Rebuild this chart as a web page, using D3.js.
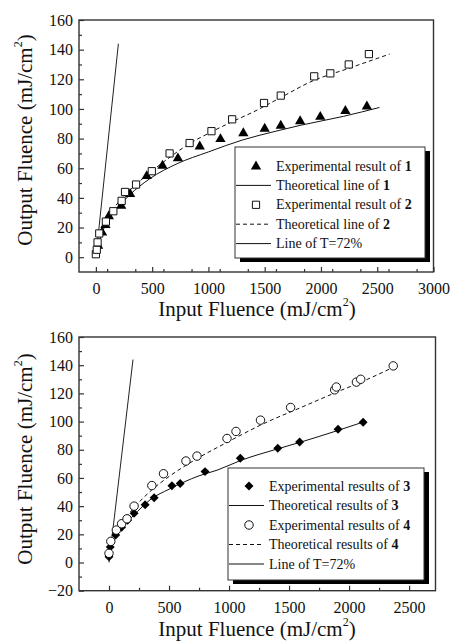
<!DOCTYPE html>
<html><head><meta charset="utf-8">
<script src="https://cdn.jsdelivr.net/npm/d3@7/dist/d3.min.js"></script>
</head>
<body style="margin:0;background:#fff">
<svg id="c" width="453" height="643"></svg>
<script>
// ---------- Panel A data ----------
const xTicksA = [0, 500, 1000, 1500, 2000, 2500, 3000];
const yTicksA = [0, 20, 40, 60, 80, 100, 120, 140, 160];
const exp1 = [[20,8],[55,17],[85,22],[115,28],[225,35],[304,43],[452,55],[592,62],[729,67],[923,75],[1107,80],[1310,84],[1500,87],[1643,89],[1815,92],[1994,95],[2217,99],[2408,102]];
const exp2 = [[0,2],[8,5],[15,10],[30,16],[89,24],[155,31],[229,38],[259,44],[357,49],[497,58],[655,70],[833,77],[1027,85],[1211,93],[1494,104],[1643,109],[1940,122],[2083,124],[2247,130],[2426,137]];
const theo1 = [[10,4],[50,15],[100,24],[200,34],[300,42],[480,53],[720,63],[1000,71],[1300,79],[1600,85],[1820,89],[2200,95],[2520,101]];
const theo2 = [[10,5],[50,17],[100,26],[200,37],[300,45],[480,57],[650,67],[840,77],[1000,83.5],[1200,91],[1400,98],[1650,108],[1900,118],[2270,128],[2610,137]];
const t72A = [[0,0],[200,144]];
const legendA = [
  {kind:"triangle", text:"Experimental result of ", bold:"1"},
  {kind:"solid", text:"Theoretical line of ", bold:"1"},
  {kind:"square", text:"Experimental result of ", bold:"2"},
  {kind:"dashed", text:"Theoretical line of ", bold:"2"},
  {kind:"solid", text:"Line of T=72%", bold:""}
];
// ---------- Panel B data ----------
const xTicksB = [0, 500, 1000, 1500, 2000, 2500];
const yTicksB = [-20, 0, 20, 40, 60, 80, 100, 120, 140, 160];
const exp3 = [[0,4],[10,11],[56,19.5],[105,25],[155,30],[209,35],[301,41],[376,46],[524,54.5],[593,56],[800,64.5],[1094,74],[1406,81],[1588,85.5],[1908,94.5],[2117,99.5]];
const exp4 = [[0,6.5],[15,15],[61,23],[105,27.5],[150,31],[209,40],[357,54.6],[454,63],[641,72],[733,75.5],[983,88],[1058,93],[1262,101],[1513,110],[1880,122.5],[1894,124.5],[2061,128],[2097,130],[2368,139.5]];
const theo3 = [[10,8],[50,17],[100,24],[200,33],[350,45],[500,52],[750,61.5],[900,65.5],[1100,72.5],[1400,80.5],[1600,85.5],[1900,93.5],[2130,100]];
const theo4 = [[10,10],[50,20],[100,27],[200,38],[350,51],[500,61],[700,72],[1000,86],[1300,99],[1600,110],[1900,121],[2100,128],[2380,139]];
const t72B = [[0,0],[200,144]];
const legendB = [
  {kind:"diamond", text:"Experimental results of ", bold:"3"},
  {kind:"solid", text:"Theoretical results of ", bold:"3"},
  {kind:"circle", text:"Experimental results of ", bold:"4"},
  {kind:"dashed", text:"Theoretical results of ", bold:"4"},
  {kind:"solid", text:"Line of T=72%", bold:""}
];

const FONT = "Liberation Serif";
const svg = d3.select("#c");

function marker(g, kind, x, y){
  if(kind==="triangle"){
    g.append("path").attr("d", d3.symbol().type(d3.symbolTriangle).size(46)())
      .attr("transform",`translate(${x},${y+0.5})`).attr("fill","#000");
  } else if(kind==="square"){
    g.append("path").attr("d", d3.symbol().type(d3.symbolSquare).size(52)())
      .attr("transform",`translate(${x},${y})`).attr("fill","#fff").attr("stroke","#111").attr("stroke-width",1);
  } else if(kind==="circle"){
    g.append("path").attr("d", d3.symbol().type(d3.symbolCircle).size(56)())
      .attr("transform",`translate(${x},${y})`).attr("fill","#fff").attr("stroke","#111").attr("stroke-width",1);
  } else if(kind==="diamond"){
    g.append("path").attr("d", d3.symbol().type(d3.symbolSquare).size(40)())
      .attr("transform",`translate(${x},${y}) rotate(45)`).attr("fill","#000");
  }
}

function panel(cfg){
  const x = d3.scaleLinear().domain(cfg.xDom).range([cfg.left, cfg.right]);
  const y = d3.scaleLinear().domain(cfg.yDom).range([cfg.bottom, cfg.top]);
  const g = svg.append("g");
  const line = d3.line().x(d=>x(d[0])).y(d=>y(d[1])).curve(d3.curveMonotoneX);

  g.append("rect").attr("x",cfg.left).attr("y",cfg.top)
    .attr("width",cfg.right-cfg.left).attr("height",cfg.bottom-cfg.top)
    .attr("fill","none").attr("stroke","#333").attr("stroke-width",1.4);

  const xMinor = d3.range(cfg.xDom[0], cfg.xDom[1], 250).filter(v=>v%500!==0 && v>cfg.xDom[0] && v<cfg.xDom[1]);
  const xAx = g.append("g").attr("transform",`translate(0,${cfg.bottom})`)
    .call(d3.axisBottom(x).tickValues(cfg.xTicks).tickSize(-5).tickPadding(11).tickFormat(d3.format("d")));
  xAx.select(".domain").remove();
  xAx.selectAll("text").attr("font-family",FONT).attr("font-size",16).attr("fill","#111");
  xAx.selectAll("line").attr("stroke","#333").attr("stroke-width",1.2);
  const xAxm = g.append("g").attr("transform",`translate(0,${cfg.bottom})`)
    .call(d3.axisBottom(x).tickValues(xMinor).tickSize(-3).tickFormat(""));
  xAxm.select(".domain").remove();
  xAxm.selectAll("line").attr("stroke","#333").attr("stroke-width",1.2);

  const yMinor = d3.range(cfg.yDom[0], cfg.yDom[1], 10).filter(v=>v%20!==0 && v>cfg.yDom[0] && v<cfg.yDom[1]);
  const yAx = g.append("g").attr("transform",`translate(${cfg.left},0)`)
    .call(d3.axisLeft(y).tickValues(cfg.yTicks).tickSize(-5).tickPadding(6).tickFormat(d3.format("d")));
  yAx.select(".domain").remove();
  yAx.selectAll("text").attr("font-family",FONT).attr("font-size",16).attr("fill","#111");
  yAx.selectAll("line").attr("stroke","#333").attr("stroke-width",1.2);
  const yAxm = g.append("g").attr("transform",`translate(${cfg.left},0)`)
    .call(d3.axisLeft(y).tickValues(yMinor).tickSize(-3).tickFormat(""));
  yAxm.select(".domain").remove();
  yAxm.selectAll("line").attr("stroke","#333").attr("stroke-width",1.2);

  g.append("path").attr("d",line(cfg.t72)).attr("fill","none").attr("stroke","#222").attr("stroke-width",1);
  g.append("path").attr("d",line(cfg.theoS)).attr("fill","none").attr("stroke","#111").attr("stroke-width",1);
  g.append("path").attr("d",line(cfg.theoD)).attr("fill","none").attr("stroke","#111").attr("stroke-width",1).attr("stroke-dasharray","4,3");

  const mk = g.append("g");
  cfg.expA.forEach(d=>marker(mk, cfg.kindA, x(d[0]), y(d[1])));
  cfg.expB.forEach(d=>marker(mk, cfg.kindB, x(d[0]), y(d[1])));

  const xt = g.append("text").attr("font-family",FONT).attr("x",cfg.xTitleX).attr("y",cfg.xTitleY).attr("text-anchor","middle").attr("font-size",21).attr("fill","#111");
  xt.append("tspan").text("Input Fluence (mJ/cm");
  xt.append("tspan").text("2").attr("font-size",12).attr("dy",-10);
  xt.append("tspan").text(")").attr("dy",10);
  const yt = g.append("text").attr("font-family",FONT).attr("transform",`translate(${cfg.yTitleX},${cfg.yTitleY}) rotate(-90)`).attr("text-anchor","middle").attr("font-size",21).attr("fill","#111");
  yt.append("tspan").text("Output Fluence (mJ/cm");
  yt.append("tspan").text("2").attr("font-size",12).attr("dy",-10);
  yt.append("tspan").text(")").attr("dy",10);

  const L = cfg.legend;
  const lg = g.append("g");
  lg.append("rect").attr("x",L.x+5).attr("y",L.y+4).attr("width",L.w).attr("height",L.h).attr("fill","#000");
  lg.append("rect").attr("x",L.x).attr("y",L.y).attr("width",L.w).attr("height",L.h).attr("fill","#fff").attr("stroke","#333").attr("stroke-width",1);
  cfg.legendItems.forEach((it,i)=>{
    const cy = L.y + L.row0 + i*L.step;
    if(it.kind==="solid"||it.kind==="dashed"){
      lg.append("line").attr("x1",L.x+1).attr("x2",L.x+L.lineW).attr("y1",cy).attr("y2",cy)
        .attr("stroke","#111").attr("stroke-width",1).attr("stroke-dasharray",it.kind==="dashed"?"4,3":null);
    } else {
      marker(lg, it.kind, L.x+L.symX, cy);
    }
    const t = lg.append("text").attr("font-family",FONT).attr("x",L.x+L.textX).attr("y",cy+4.5).attr("font-size",14).attr("fill","#111");
    t.append("tspan").text(it.text);
    if(it.bold) t.append("tspan").text(it.bold).attr("font-weight","bold");
  });
}

panel({
  xDom:[-150,3000], yDom:[-10,160], left:79, right:433.5, top:20, bottom:272,
  xTicks:xTicksA, yTicks:yTicksA,
  expA:exp1, kindA:"triangle", expB:exp2, kindB:"square",
  theoS:theo1, theoD:theo2, t72:t72A,
  xTitleX:257, xTitleY:316, yTitleX:32, yTitleY:140,
  legend:{x:235, y:147, w:190, h:111, row0:19, step:19.4, symX:21, lineW:36, textX:41},
  legendItems:legendA
});
panel({
  xDom:[-250,2720], yDom:[-20,160], left:79, right:435.5, top:337, bottom:590.7,
  xTicks:xTicksB, yTicks:yTicksB,
  expA:exp3, kindA:"diamond", expB:exp4, kindB:"circle",
  theoS:theo3, theoD:theo4, t72:t72B,
  xTitleX:257, xTitleY:636, yTitleX:32, yTitleY:459,
  legend:{x:228, y:468, w:196, h:112, row0:18, step:19.5, symX:21, lineW:36, textX:41},
  legendItems:legendB
});
</script>
</body></html>
